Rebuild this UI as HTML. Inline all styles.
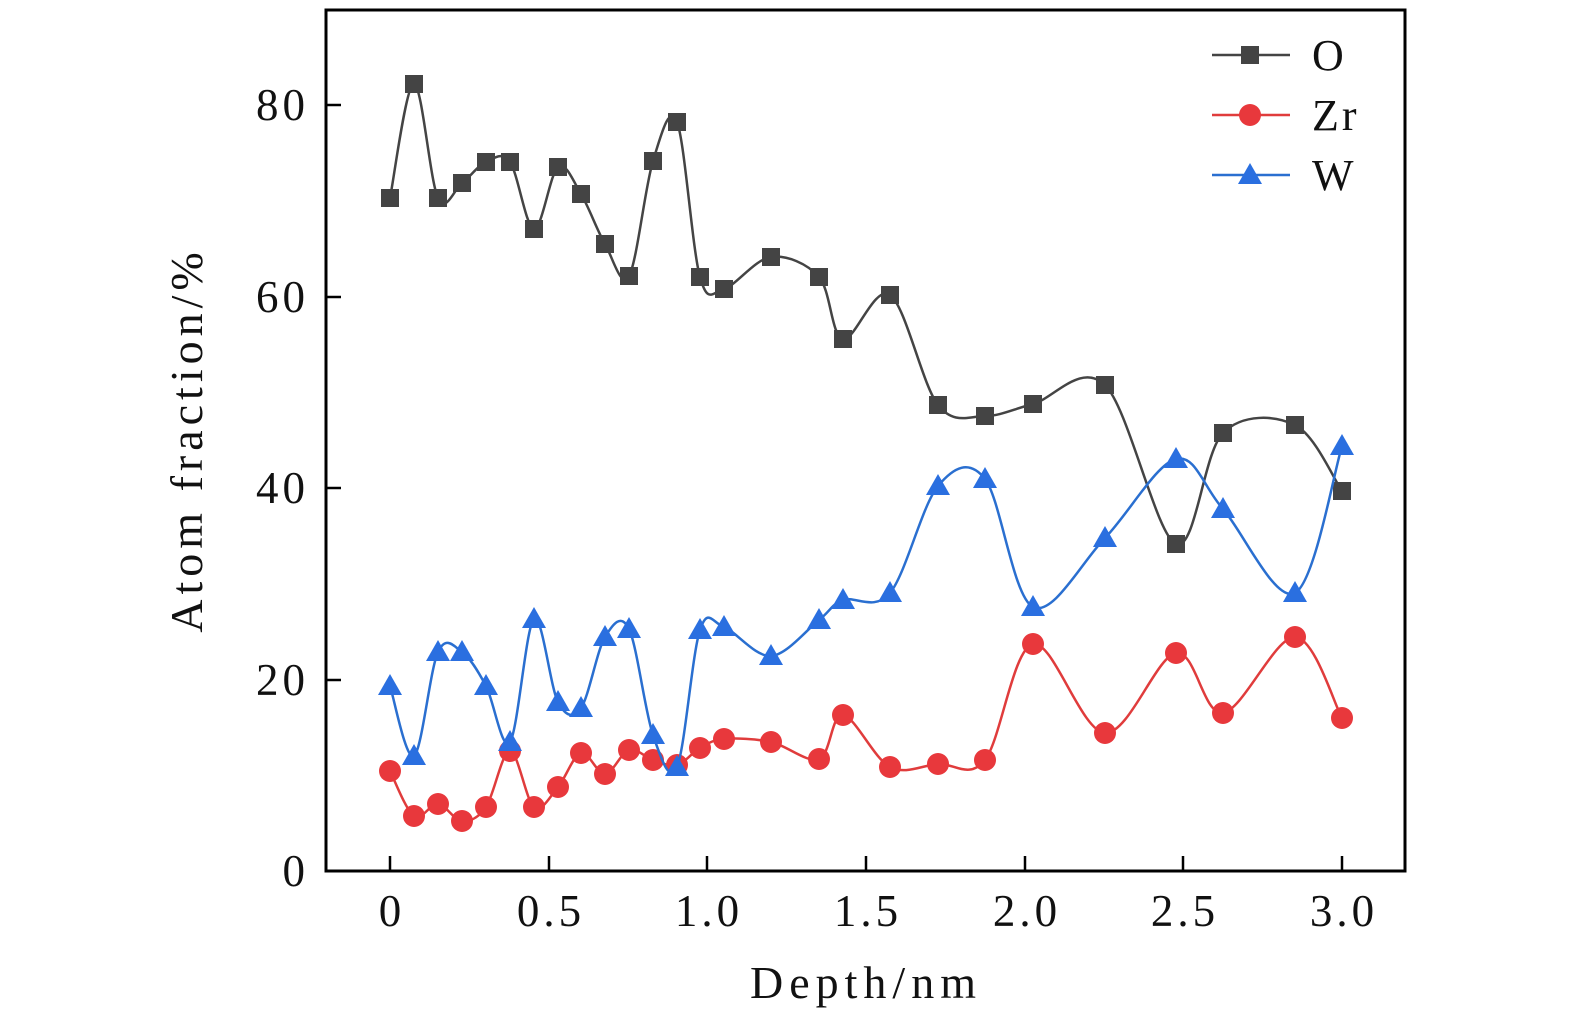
<!DOCTYPE html><html><head><meta charset="utf-8"><style>body{margin:0;background:#fff}svg{display:block}text{font-family:"Liberation Serif",serif;fill:#111}</style></head><body>
<svg id="s" width="1575" height="1024" xmlns="http://www.w3.org/2000/svg">
<rect x="326" y="10" width="1079" height="861" fill="none" stroke="#000" stroke-width="3"/>
<g stroke="#000" stroke-width="2.5">
<line x1="390" y1="871" x2="390" y2="856"/><line x1="549" y1="871" x2="549" y2="856"/><line x1="707" y1="871" x2="707" y2="856"/><line x1="866" y1="871" x2="866" y2="856"/><line x1="1025" y1="871" x2="1025" y2="856"/><line x1="1183" y1="871" x2="1183" y2="856"/><line x1="1342" y1="871" x2="1342" y2="856"/>
<line x1="326" y1="680" x2="341" y2="680"/><line x1="326" y1="488" x2="341" y2="488"/><line x1="326" y1="297" x2="341" y2="297"/><line x1="326" y1="105" x2="341" y2="105"/>
</g>
<g font-size="45" text-anchor="middle" letter-spacing="4">
<text x="392" y="926">0</text><text x="551" y="926">0.5</text><text x="709" y="926">1.0</text><text x="868" y="926">1.5</text><text x="1027" y="926">2.0</text><text x="1185" y="926">2.5</text><text x="1344" y="926">3.0</text>
</g>
<g font-size="45" text-anchor="end" letter-spacing="4">
<text x="309" y="886">0</text><text x="309" y="695">20</text><text x="309" y="503">40</text><text x="309" y="312">60</text><text x="309" y="120">80</text>
</g>
<text x="866" y="998" font-size="46" text-anchor="middle" letter-spacing="6">Depth/nm</text>
<text transform="translate(202,440) rotate(-90)" font-size="46" text-anchor="middle" letter-spacing="5">Atom fraction/%</text>
<g id="series"></g>
<g font-size="44">
<line x1="1212" y1="55" x2="1290" y2="55" stroke="#444" stroke-width="2.5"/><rect x="1241" y="46" width="18" height="18" fill="#444"/><text x="1312" y="70">O</text>
<line x1="1212" y1="115" x2="1290" y2="115" stroke="#e03c3c" stroke-width="2.5"/><circle cx="1250" cy="115" r="11" fill="#e8383c"/><text x="1312" y="130" letter-spacing="3">Zr</text>
<line x1="1212" y1="175" x2="1290" y2="175" stroke="#2a6fd0" stroke-width="2.5"/><polygon points="1250,163 1262,184 1238,184" fill="#2a6fe0"/><text x="1312" y="190">W</text>
</g>
</svg>
<script>
var xs=[390,414,438,462,486,510,534,558,581,605,629,653,677,700,724,771,819,843,890,938,985,1033,1105,1176,1223,1295,1342];
var O=[198,84,198,183,162,162,229,167,194,244,276,161,122,277,289,257,277,339,295,405,416,404,385,544,433,425,491];
var Z=[771,816,804,821,807,751,807,787,753,774,750,760,765,748,739,742,759,715,767,764,760,644,733,653,713,637,718];
var W=[686,756,652,652,686,742,619,702,708,637,629,735,767,630,627,656,620,600,593,486,479,607,538,459,509,593,446];
function path(ys){var p=xs.map((x,i)=>[x,ys[i]]);var d="M"+p[0][0]+","+p[0][1];for(var i=0;i<p.length-1;i++){var a=p[Math.max(0,i-1)],b=p[i],c=p[i+1],e=p[Math.min(p.length-1,i+2)];var c1=[b[0]+(c[0]-a[0])/6,b[1]+(c[1]-a[1])/6],c2=[c[0]-(e[0]-b[0])/6,c[1]-(e[1]-b[1])/6];d+=" C"+c1+" "+c2+" "+c;}return d;}
var g=document.getElementById("series"),h="";
function add(ys,col,mk,fill){h+='<path d="'+path(ys)+'" fill="none" stroke="'+col+'" stroke-width="2.5"/>';xs.forEach((x,i)=>{var y=ys[i];if(mk=="s")h+='<rect x="'+(x-9)+'" y="'+(y-9)+'" width="18" height="18" fill="'+fill+'"/>';else if(mk=="c")h+='<circle cx="'+x+'" cy="'+y+'" r="11" fill="'+fill+'"/>';else h+='<polygon points="'+x+','+(y-12)+' '+(x+12)+','+(y+9)+' '+(x-12)+','+(y+9)+'" fill="'+fill+'"/>';});}
add(O,"#444","s","#444");add(Z,"#e03c3c","c","#e8383c");add(W,"#2a6fd0","t","#2a6fe0");
g.innerHTML=h;
</script>
</body></html>
